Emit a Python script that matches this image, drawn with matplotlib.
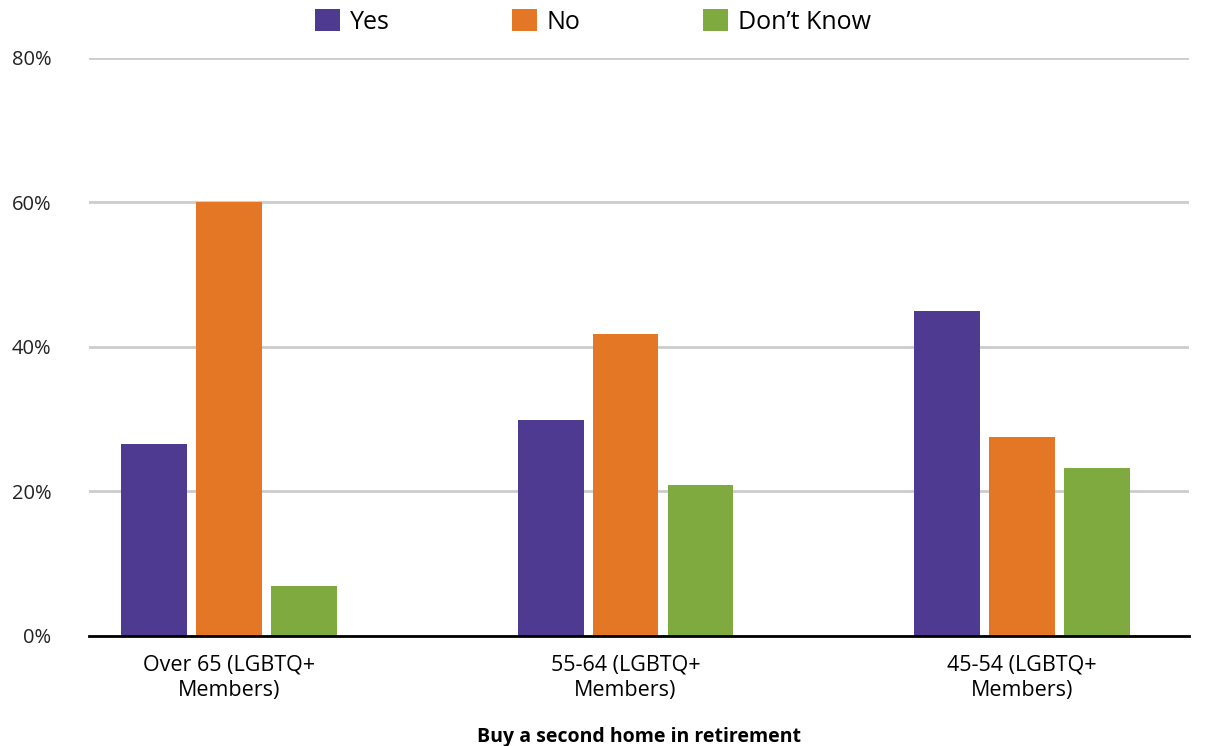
import matplotlib.pyplot as plt
import numpy as np
from matplotlib.ticker import FuncFormatter

plt.rcParams['font.family'] = ['Open Sans', 'DejaVu Sans']

categories = ['Over 65 (LGBTQ+\nMembers)', '55-64 (LGBTQ+\nMembers)', '45-54 (LGBTQ+\nMembers)']
series = ['Yes', 'No', 'Don\u2019t Know']
yes = [26.6, 29.9, 45.0]
no = [60.0, 41.8, 27.5]
dont_know = [6.9, 20.9, 23.3]
colors = ['#4f3a91', '#e47725', '#7faa40']

fig = plt.figure(figsize=(12.15, 7.46), dpi=100)
ax = fig.add_axes([0.0733, 0.1475, 0.9053, 0.7748])

ind = np.arange(len(categories))
width = 0.166
step = 0.189
for i, (vals, c, name) in enumerate(zip([yes, no, dont_know], colors, series)):
    ax.bar(ind + (i - 1) * step, vals, width, color=c, label=name, zorder=3)

ax.set_ylim(0, 80)
ax.set_xlim(-0.353, 2.421)
ax.set_yticks([0, 20, 40, 60, 80])
ax.yaxis.set_major_formatter(FuncFormatter(lambda v, p: '%d%%' % v))
ax.grid(axis='y', color='#cccccc', linewidth=2, zorder=0)
ax.set_xticks(ind)
ax.set_xticklabels(categories, fontsize=15.5, linespacing=1.3)

for s in ['top', 'right', 'left']:
    ax.spines[s].set_visible(False)
ax.spines['bottom'].set_color('black')
ax.spines['bottom'].set_linewidth(2)
ax.spines['bottom'].set_zorder(4)
ax.tick_params(axis='y', length=0, pad=27, labelsize=14.5)
ax.tick_params(axis='x', length=0, pad=13)
for lbl in ax.get_yticklabels():
    lbl.set_color('#222222')

ax.set_xlabel('Buy a second home in retirement', fontsize=14, fontweight='bold', labelpad=19)

fig.legend(loc='upper center', bbox_to_anchor=(0.488, 1.018), ncol=3, frameon=False,
           fontsize=18, handlelength=1.0, handleheight=1.0, handletextpad=0.4,
           columnspacing=4.9)

plt.savefig('out.png', dpi=100)
